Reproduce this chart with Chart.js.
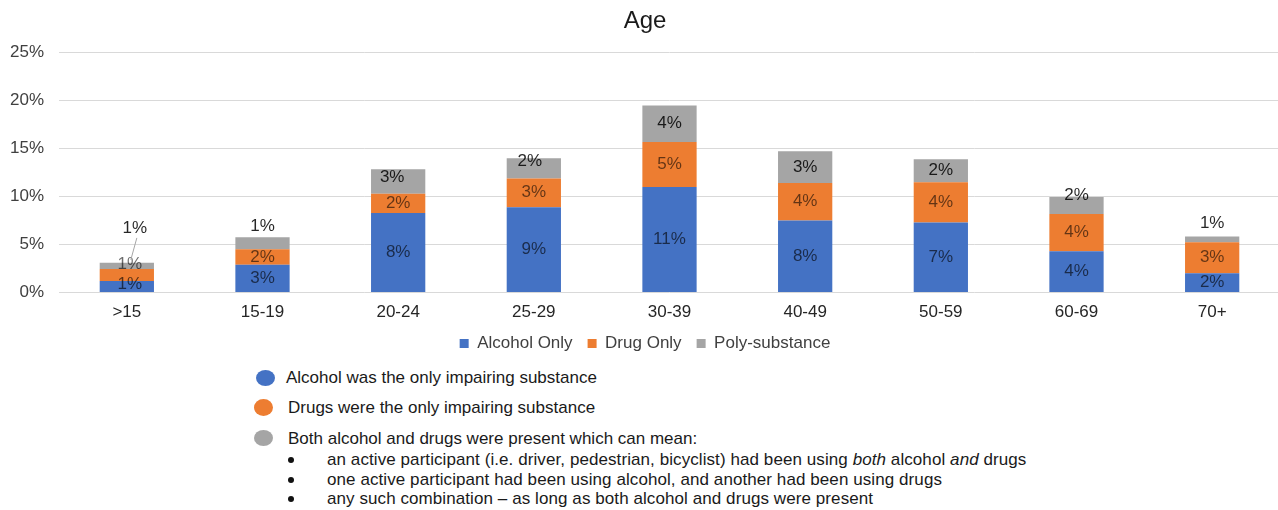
<!DOCTYPE html>
<html><head><meta charset="utf-8">
<script src="https://cdn.jsdelivr.net/npm/chart.js@4.4.1/dist/chart.umd.min.js"></script>
<style>
html,body{margin:0;padding:0;background:#fff;overflow:hidden;width:1278px;height:510px;position:relative;}
#wrap{position:absolute;left:0;top:0;width:1296px;height:362px;}
.note{position:absolute;font-size:17px;font-family:"Liberation Sans",Arial,sans-serif;color:#1a1a1a;line-height:20px;white-space:nowrap;}
.dot{position:absolute;border-radius:50%;}
.bul{position:absolute;width:6px;height:6px;border-radius:50%;background:#111;}
</style></head><body>
<div id="wrap"><canvas id="c" width="1296" height="362"></canvas></div>

<div class="dot" style="left:256px;top:370px;width:19px;height:16px;background:#4472C4"></div>
<div class="note" style="left:286px;top:368px">Alcohol was the only impairing substance</div>
<div class="dot" style="left:254px;top:399px;width:19px;height:17px;background:#ED7D31"></div>
<div class="note" style="left:288px;top:398px">Drugs were the only impairing substance</div>
<div class="dot" style="left:254px;top:430px;width:19px;height:16px;background:#A5A5A5"></div>
<div class="note" style="left:288px;top:429px">Both alcohol and drugs were present which can mean:</div>
<div class="bul" style="left:288px;top:457px"></div>
<div class="note" style="left:327px;top:450px;letter-spacing:0.08px">an active participant (i.e. driver, pedestrian, bicyclist) had been using <i>both</i> alcohol <i>and</i> drugs</div>
<div class="bul" style="left:288px;top:477px"></div>
<div class="note" style="left:327px;top:470px;letter-spacing:0.08px">one active participant had been using alcohol, and another had been using drugs</div>
<div class="bul" style="left:288px;top:496px"></div>
<div class="note" style="left:327px;top:489px;letter-spacing:0.08px">any such combination – as long as both alcohol and drugs were present</div>

<script>
const categories = ['>15', '15-19', '20-24', '25-29', '30-39', '40-49', '50-59', '60-69', '70+'];
const alcoholOnly = [1.2, 2.9, 8.3, 8.9, 11.0, 7.52, 7.3, 4.3, 2.0];
const drugOnly    = [1.25, 1.6, 2.0, 3.0, 4.7, 3.9, 4.2, 3.9, 3.25];
const polySubstance = [0.65, 1.25, 2.55, 2.1, 3.8, 3.3, 2.4, 1.75, 0.6];
const yTicks = [0, 5, 10, 15, 20, 25];
const seriesNames = ['Alcohol Only', 'Drug Only', 'Poly-substance'];

const FONT = '"Liberation Sans", Arial, sans-serif';
Chart.defaults.font.family = FONT;

const segLabels = {
  id: 'segLabels',
  afterDatasetsDraw(chart, args, opts) {
    const ctx = chart.ctx;
    ctx.save();
    ctx.font = '17px ' + FONT;
    ctx.textAlign = 'center';
    ctx.textBaseline = 'middle';
    chart.data.datasets.forEach((ds, di) => {
      const meta = chart.getDatasetMeta(di);
      meta.data.forEach((bar, i) => {
        const v = ds.data[i];
        const cy = (bar.y + bar.base) / 2 + (opts.shiftY[di][i] || 0);
        const cx = bar.x + (opts.shiftX[di][i] || 0);
        ctx.fillStyle = opts.colors[di];
        ctx.fillText(Math.round(v) + '%', cx, cy);
      });
    });
    if (opts.leader) {
      const { dataset, index } = opts.leader;
      const bar = chart.getDatasetMeta(dataset).data[index];
      const ly = (bar.y + bar.base) / 2 + opts.shiftY[dataset][index];
      ctx.strokeStyle = '#a6a6a6';
      ctx.lineWidth = 1;
      ctx.beginPath();
      ctx.moveTo(bar.x + 10, ly + 10);
      ctx.lineTo(bar.x + 4, bar.y - 3);
      ctx.stroke();
    }
    ctx.restore();
  }
};

new Chart(document.getElementById('c'), {
  type: 'bar',
  data: {
    labels: categories,
    datasets: [
      { label: seriesNames[0], data: alcoholOnly, backgroundColor: '#4472C4' },
      { label: seriesNames[1], data: drugOnly, backgroundColor: '#ED7D31' },
      { label: seriesNames[2], data: polySubstance, backgroundColor: '#A5A5A5' }
    ]
  },
  options: {
    responsive: false,
    animation: false,
    events: [],
    layout: { padding: { left: 10, right: 16, top: 0, bottom: 0 } },
    datasets: { bar: { categoryPercentage: 0.5, barPercentage: 0.8, borderWidth: 0 } },
    scales: {
      x: {
        stacked: true,
        grid: { display: false, drawTicks: false },
        border: { display: false },
        ticks: { color: '#262626', font: { size: 17 }, padding: 10, maxRotation: 0 },
        afterFit(axis) { axis.height = 27.5; }
      },
      y: {
        stacked: true,
        min: 0, max: 25,
        afterBuildTicks(axis) { axis.ticks = yTicks.map(v => ({ value: v })); },
        grid: { color: '#d9d9d9', drawTicks: false, lineWidth: 1 },
        border: { display: false },
        ticks: { color: '#404040', font: { size: 17 }, padding: 15, callback: v => v + '%' },
        afterFit(axis) { axis.width = 49; }
      }
    },
    plugins: {
      title: {
        display: true, text: 'Age', color: '#1a1a1a',
        font: { size: 24, weight: 'normal' },
        padding: { top: 7, bottom: 17 }
      },
      legend: {
        position: 'bottom',
        labels: { boxWidth: 9, boxHeight: 9, color: '#404040', font: { size: 17 }, padding: 15 }
      },
      tooltip: { enabled: false },
      segLabels: {
        colors: ['rgba(0,0,0,0.62)', 'rgba(0,0,0,0.58)', 'rgba(0,0,0,0.85)'],
        shiftY: [
          [-2, 0, 0, 0, 0, 0, 0, 0, 0],
          [-11, 0, 0, 0, 0, 0, 0, 0, 0],
          [-38, -17, -4, -7, 0, 0, 0, -10, -16]
        ],
        shiftX: [
          [3, 0, 0, 0, 0, 0, 0, 0, 0],
          [3, 0, 0, 0, 0, 0, 0, 0, 0],
          [8, 0, -6, -4, 0, 0, 0, 0, 0]
        ],
        leader: { dataset: 2, index: 0 }
      }
    }
  },
  plugins: [segLabels]
});
</script>
</body></html>
